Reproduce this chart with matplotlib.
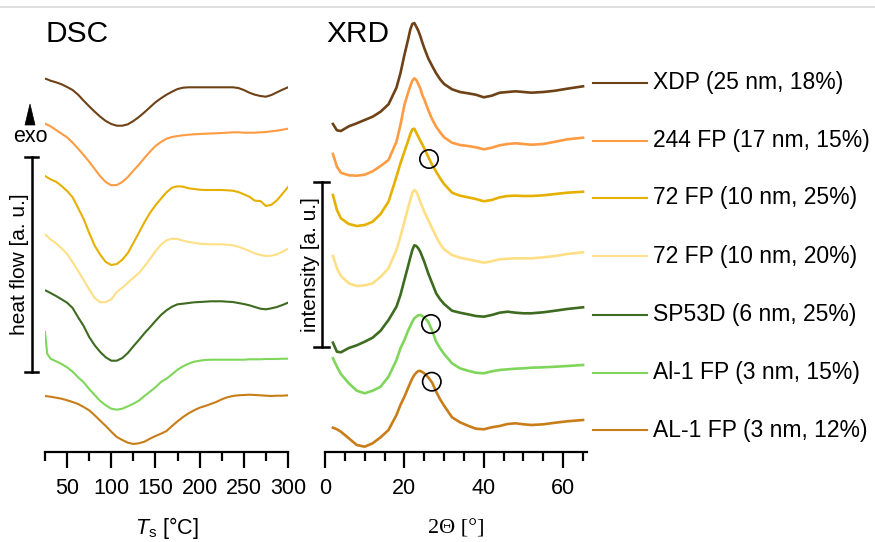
import matplotlib
matplotlib.use("Agg")
import matplotlib.pyplot as plt
from matplotlib.lines import Line2D
from matplotlib.patches import Polygon
from matplotlib.ticker import MultipleLocator

plt.rcParams['font.family'] = ['Liberation Sans', 'DejaVu Sans']
plt.rcParams['mathtext.fontset'] = 'custom'
plt.rcParams['mathtext.rm'] = 'Liberation Sans'
plt.rcParams['mathtext.it'] = 'Liberation Sans:italic'

W, H = 875, 542

# ---- samples -------------------------------------------------------------
samples = ["XDP (25 nm, 18%)", "244 FP (17 nm, 15%)", "72 FP (10 nm, 25%)",
           "72 FP (10 nm, 20%)", "SP53D (6 nm, 25%)", "Al-1 FP (3 nm, 15%)",
           "AL-1 FP (3 nm, 12%)"]
colors = ["#6E4216", "#FF9B42", "#E6B000", "#FFDF85", "#3D6B1F", "#7FD65A", "#C87D18"]

# ---- DSC: stacked heat-flow traces (a.u.) ----------------------------------
dsc_temp = [25, 27.5, 31.25, 37.5, 43.75, 50, 56.25, 62.5, 68.75, 75, 81.25, 87.5,
            93.75, 100, 106.25, 112.5, 118.75, 125, 131.25, 137.5, 143.75, 150,
            156.25, 162.5, 168.75, 175, 181.25, 187.5, 193.75, 200, 206.25, 212.5,
            218.75, 225, 231.25, 237.5, 243.75, 250, 256.25, 262.5, 268.75, 275,
            281.25, 287.5, 293.75, 300]
dsc_xdp = [373.3, 372.7, 371.3, 369.7, 367.7, 365, 362, 357.3, 351.3, 345.7, 340.3, 335.3,
           331, 328, 326.3, 326.3, 327.7, 331, 335, 339.7, 344.7, 349.7,
           353.7, 357.3, 360.3, 363, 364.3, 364.7, 364.7, 364.7, 364.7, 364.7,
           364.7, 364.7, 364.7, 364.7, 364, 362, 359.3, 357.3, 356, 355.3,
           357, 359.7, 362.3, 364.7]
dsc_244fp = [328.3, 327.3, 325.7, 322, 318.3, 314.7, 309.3, 303.3, 297, 290.3, 283, 275.7,
             270, 266.7, 267, 270, 275, 281.3, 287.3, 294, 300.3, 306,
             310, 313.3, 315, 316, 316.7, 317.3, 317.7, 318, 318.3, 318.5,
             318.7, 319, 319.3, 319.7, 319.7, 319.3, 319.3, 319.3, 319.7, 320,
             320.7, 321.3, 322.3, 323.3]
dsc_72fp_25 = [276, 274.7, 272.7, 270.3, 266, 261, 254.7, 244, 233, 219, 206.3, 197.3,
               190, 187, 188, 192.3, 199, 209, 219.3, 229.7, 239, 246.7,
               253.3, 259.7, 264.3, 265.7, 265.3, 263.7, 263, 262.3, 262, 262,
               262, 262, 261.7, 261.3, 260, 257.7, 255.3, 251.3, 251, 246,
               247.3, 251.7, 258.3, 265]
dsc_72fp_20 = [217.7, 215.7, 212.7, 208.7, 203.7, 198, 189.7, 181, 172, 162.7, 154, 149.7,
               150, 152.7, 160, 164.3, 169.3, 174.3, 179, 185.7, 193, 200.7,
               207.3, 211.7, 213.3, 213, 211.3, 210, 209.3, 208.3, 208, 207.7,
               207.7, 207.7, 207.3, 206.7, 205.3, 203.3, 201, 198.7, 197, 196,
               196.3, 197.7, 200.3, 203.3]
dsc_sp53d = [161.7, 160.7, 159, 156, 152.7, 149.3, 144, 134.7, 126, 115, 106.7, 100,
             94.7, 91.3, 91.3, 94, 99, 105.7, 112, 118.7, 124.7, 131,
             137, 141.7, 145.3, 147.7, 148.3, 149, 149.7, 150, 150.3, 150.7,
             150.7, 150.7, 150.3, 150, 149, 148, 146.7, 145, 143.3, 142.7,
             143.7, 145, 147, 149.3]
dsc_al1_15 = [120, 98.3, 93.3, 90.7, 88, 84.7, 80.3, 74.7, 69.7, 63, 57, 51,
              46.7, 43.3, 42.3, 43.3, 45.7, 48.3, 51.3, 56, 60.3, 64.7,
              70, 73.3, 77.7, 82.3, 85.7, 88.3, 90.3, 91.3, 92, 92.3,
              92.3, 92.3, 92.3, 92.3, 92.3, 92.3, 92.7, 92.7, 92.7, 93,
              93, 93, 93.3, 93.3]
dsc_al1_12 = [56, 55.7, 55.3, 54.3, 53.3, 51.7, 50, 48, 45, 41.7, 36.7, 31.3,
              26, 20.3, 15, 12, 9.3, 8, 8.7, 10.3, 13.3, 16,
              18.3, 21, 26, 30.7, 35, 38.7, 41.7, 44.3, 46, 48,
              50, 52.7, 54.7, 56, 56.7, 57, 57.3, 57, 56.7, 56.3,
              56, 56.3, 56.3, 56.7]

# ---- XRD: stacked diffractograms (a.u.) ------------------------------------
xrd_angle = [2, 3, 4, 6, 8, 10, 12, 14, 16, 18, 19, 20, 21, 21.5, 22, 22.5, 23, 23.5,
             24, 24.5, 25, 26, 27, 28, 29, 30, 32, 34, 36, 38, 40, 42, 44, 46, 48, 50,
             52, 55, 58, 61, 65]
xrd_xdp = [328.0, 321.7, 321.0, 325.7, 328.7, 332.0, 335.3, 340.3, 347.7, 364.3, 378.7,
           397.0, 413.7, 422.7, 428.0, 429.0, 425.3, 421.3, 416.0, 409.7, 404.0, 393.7,
           386.0, 378.7, 372.7, 368.0, 362.7, 360.0, 358.7, 357.3, 354.7, 356.3, 359.3,
           360.0, 360.7, 360.0, 359.3, 360.0, 361.3, 363.3, 365.7]
xrd_244fp = [298.0, 285.3, 279.3, 276.7, 276.3, 277.3, 280.7, 286.0, 292.0, 310.3, 327.0,
             347.0, 360.3, 366.0, 371.3, 373.7, 372.0, 368.0, 363.7, 357.0, 352.7, 342.0,
             332.7, 325.3, 319.7, 314.7, 309.3, 307.0, 306.0, 304.7, 302.7, 304.3, 306.7,
             308.0, 308.7, 308.0, 307.3, 308.0, 310.3, 312.7, 314.3]
xrd_72fp_25 = [257.0, 242.0, 233.7, 228.0, 226.0, 227.0, 230.3, 238.0, 250.3, 275.3, 288.7,
               300.3, 312.0, 318.0, 322.7, 323.3, 319.3, 315.3, 311.3, 307.7, 303.7, 295.3,
               287.0, 280.3, 273.7, 268.0, 259.3, 256.3, 254.7, 253.0, 250.7, 252.0, 254.7,
               256.0, 256.3, 256.0, 256.0, 256.7, 258.0, 259.3, 260.3]
xrd_72fp_20 = [196.0, 183.7, 176.0, 168.7, 166.0, 166.7, 168.7, 175.3, 183.7, 202.0, 215.3,
               230.3, 245.3, 252.0, 259.3, 262.0, 260.3, 256.0, 250.3, 245.3, 240.3, 232.0,
               223.7, 215.3, 208.0, 202.7, 197.0, 194.3, 192.7, 191.0, 189.3, 190.7, 192.7,
               193.3, 193.7, 193.7, 193.7, 194.7, 196.0, 198.0, 199.7]
xrd_sp53d = [109.3, 100.3, 99.7, 104.0, 106.7, 110.3, 114.3, 121.3, 132.0, 145.3, 157.0,
             172.0, 187.0, 194.7, 202.0, 206.7, 206.0, 203.7, 200.3, 195.3, 190.3, 178.7,
             168.7, 158.7, 152.7, 148.0, 141.3, 139.3, 137.7, 136.0, 135.3, 137.0, 139.3,
             140.3, 139.3, 138.7, 138.7, 139.7, 141.3, 143.0, 144.7]
xrd_al1_15 = [93.7, 85.3, 78.0, 68.7, 61.3, 58.7, 61.3, 65.3, 75.3, 92.0, 103.7,
              112.0, 122.0, 126.0, 130.3, 133.7, 135.3, 136.7, 137.0, 136.0, 134.7, 130.3,
              121.3, 110.3, 103.7, 98.0, 88.7, 83.7, 81.3, 79.3, 78.7, 80.7, 82.0,
              82.7, 83.3, 83.7, 84.3, 84.7, 85.3, 86.0, 87.0]
xrd_al1_12 = [24.3, 22.7, 20.3, 13.7, 7.0, 5.3, 8.7, 14.7, 22.0, 37.0, 47.0,
              55.3, 64.7, 69.3, 73.7, 77.0, 79.3, 81.0, 81.0, 80.0, 78.7, 74.7,
              69.3, 60.3, 52.7, 46.3, 34.7, 29.7, 26.3, 23.3, 22.7, 24.7, 26.0,
              28.0, 28.7, 27.7, 27.0, 27.7, 29.3, 30.7, 32.0]

# marked reflections (open circles)
circle_angle = [26.2, 26.7, 26.9]
circle_level = [293.0, 128.0, 70.3]

dsc_traces = [dsc_xdp, dsc_244fp, dsc_72fp_25, dsc_72fp_20, dsc_sp53d, dsc_al1_15, dsc_al1_12]
xrd_traces = [xrd_xdp, xrd_244fp, xrd_72fp_25, xrd_72fp_20, xrd_sp53d, xrd_al1_15, xrd_al1_12]


def fx(px):
    return px / W


def fy(py):
    return 1 - py / H


fig = plt.figure(figsize=(W / 100, H / 100), dpi=100)

ax_dsc = fig.add_axes([fx(45), fy(452), (288 - 45) / W, 452 / H])
ax_xrd = fig.add_axes([fx(325), fy(452), (587 - 325) / W, 452 / H])

for ax in (ax_dsc, ax_xrd):
    ax.set_facecolor("none")
    for side in ("left", "right", "top"):
        ax.spines[side].set_visible(False)
    ax.spines["bottom"].set_linewidth(1.6)
    ax.set_yticks([])
    ax.set_ylim(0, 452)
    ax.tick_params(axis="x", which="major", direction="out", length=11.5, width=1.6,
                   labelsize=15.5, pad=7)
    ax.tick_params(axis="x", which="minor", direction="out", length=6.8, width=1.6)

ax_dsc.set_xlim(25, 300)
ax_dsc.xaxis.set_major_locator(MultipleLocator(50))
ax_dsc.xaxis.set_minor_locator(MultipleLocator(25))

ax_xrd.set_xlim(0, 66)
ax_xrd.xaxis.set_major_locator(MultipleLocator(20))
ax_xrd.xaxis.set_minor_locator(MultipleLocator(5))

for trace, c in zip(dsc_traces, colors):
    ax_dsc.plot(dsc_temp, trace, color=c, lw=1.5, solid_joinstyle="round")
for trace, c in zip(xrd_traces, colors):
    ax_xrd.plot(xrd_angle, trace, color=c, lw=1.9, solid_joinstyle="round")

ax_xrd.scatter(circle_angle, circle_level, s=175, facecolors="none",
               edgecolors="black", linewidths=1.2, zorder=5)

# axis titles
fig.text(fx(166.5), fy(528), r"$\mathit{T}_{\mathrm{s}}$ [°C]", ha="center", va="center",
         fontsize=15.5)
fig.text(fx(456), fy(529), "2Θ [°]", ha="center", va="center", fontsize=16,
         family=["Liberation Serif", "DejaVu Serif"])

# panel titles
fig.text(fx(46), fy(41.7), "DSC", ha="left", va="baseline", fontsize=21.5)
fig.text(fx(326), fy(41.7), "XRD", ha="left", va="baseline", fontsize=21.5)


def scale_bar(x, y0, y1, half):
    kw = dict(color="black", lw=1.8, transform=fig.transFigure)
    fig.add_artist(Line2D([fx(x), fx(x)], [fy(y0), fy(y1)], **kw))
    for y in (y0, y1):
        fig.add_artist(Line2D([fx(x - half), fx(x + half)], [fy(y), fy(y)], **kw))


scale_bar(31.7, 157, 372, 6.7)
scale_bar(321.7, 182, 347, 7.5)

fig.text(fx(20), fy(264), "heat flow [a. u.]", rotation=90, ha="center", va="center",
         fontsize=15)
fig.text(fx(310), fy(265), "intensity [a. u.]", rotation=90, ha="center", va="center",
         fontsize=15)

# exothermic direction marker
fig.add_artist(Polygon([(fx(25), fy(125)), (fx(35), fy(125)), (fx(30), fy(104))],
                       closed=True, facecolor="black", edgecolor="black", lw=0.5,
                       transform=fig.transFigure))
fig.text(fx(30), fy(137), "exo", ha="center", va="center", fontsize=15.5)

# sample key
key_y = [83, 140.5, 198, 256, 315, 373, 430]
for name, c, y in zip(samples, colors, key_y):
    fig.add_artist(Line2D([fx(593), fx(647)], [fy(y), fy(y)], color=c, lw=1.5,
                          transform=fig.transFigure))
    fig.text(fx(653), fy(y), name, ha="left", va="center", fontsize=16.5)

# thin frame rule along the top edge
fig.add_artist(Line2D([0, 1], [fy(7), fy(7)], color="#d9d9d9", lw=1.2,
                      transform=fig.transFigure))

fig.savefig("out.png", dpi=100)
